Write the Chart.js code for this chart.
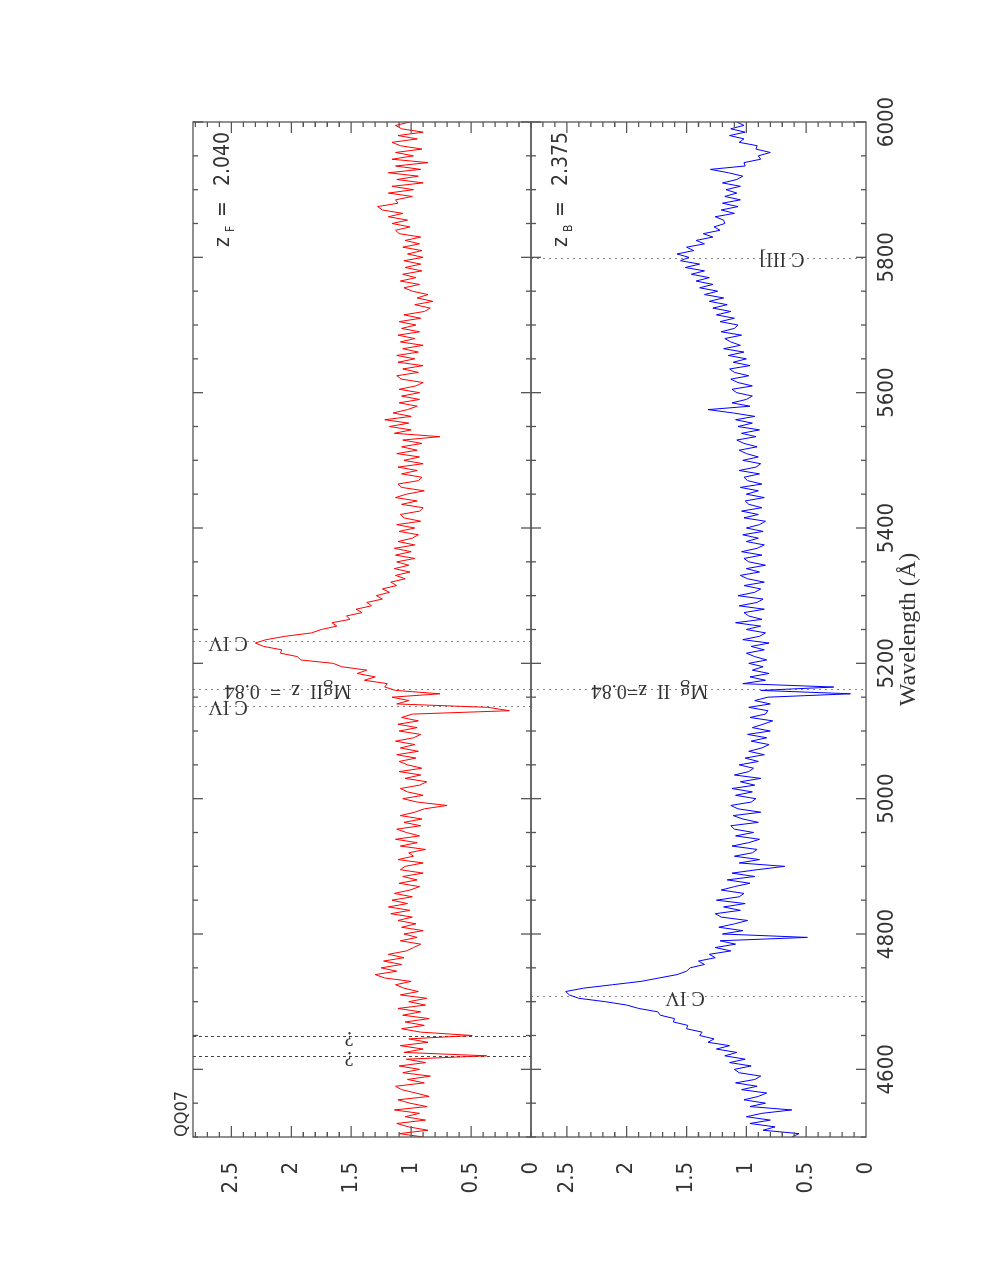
<!DOCTYPE html>
<html>
<head>
<meta charset="utf-8">
<script src="https://cdn.jsdelivr.net/npm/chart.js@4.4.1/dist/chart.umd.min.js"></script>
<style>
  html, body { margin: 0; padding: 0; background: #fff; overflow: hidden; }
  /* the figure is drawn landscape and turned a quarter turn, like the printed page */
  #page { position: absolute; left: 0; top: 0; width: 1269px; height: 981px;
          transform-origin: 0 0; transform: translateY(1269px) rotate(-90deg); }
  #page canvas { position: absolute; left: 0; top: 0; }
</style>
</head>
<body>
<div id="page">
  <canvas id="panelF" width="1269" height="981"></canvas>
  <canvas id="panelB" width="1269" height="981"></canvas>
</div>
<script>
// spectra sampled every 5 A from 4500 A
var waveStart = 4500;
var waveStep = 5;

// upper spectrum (red), relative flux
var fluxF = [
  0.90, 1.10, 0.86, 1.02, 1.12, 0.88, 1.05, 0.93, 1.14, 0.87,
  1.01, 1.11, 0.85, 0.96, 1.08, 1.13, 0.89, 1.03, 0.84, 1.07,
  0.93, 1.10, 0.88, 1.04, 0.37, 1.06, 0.90, 1.09, 0.86, 1.02,
  0.49, 0.92, 1.08, 0.89, 1.05, 0.85, 1.07, 0.92, 1.11, 0.88,
  1.02, 0.87, 1.09, 0.94, 1.06, 1.13, 1.00, 1.22, 1.30, 1.12,
  1.25, 1.08, 1.23, 1.06, 1.19, 1.04, 0.98, 0.92, 1.09, 0.95,
  1.06, 0.90, 1.08, 0.96, 1.11, 0.99, 1.17, 1.01, 1.19, 1.03,
  1.16, 0.99, 1.14, 1.01, 0.93, 1.10, 0.95, 1.07, 0.90, 1.09,
  1.05, 0.90, 1.11, 0.98, 1.02, 0.88, 1.09, 0.95, 1.13, 0.93,
  1.04, 1.12, 0.92, 1.06, 0.91, 1.09, 0.97, 0.89, 0.70, 0.95,
  1.07, 0.90, 1.03, 1.09, 0.93, 0.87, 1.05, 0.92, 1.10, 0.91,
  1.03, 1.10, 0.96, 1.12, 0.94, 1.09, 0.97, 1.13, 0.98, 0.92,
  1.10, 0.95, 1.11, 0.94, 1.08, 0.99, 0.18, 0.36, 1.12, 1.02,
  1.16, 0.76, 1.13, 1.22, 1.20, 1.39, 1.30, 1.45, 1.37, 1.58,
  1.65, 1.92, 1.95, 2.09, 2.08, 2.23, 2.30, 2.21, 2.05, 1.83,
  1.75, 1.62, 1.66, 1.51, 1.54, 1.41, 1.46, 1.33, 1.37, 1.24,
  1.29, 1.18, 1.24, 1.12, 1.17, 1.05, 1.13, 1.01, 1.14, 1.02,
  1.12, 0.97, 1.13, 1.00, 1.14, 0.97, 1.11, 0.99, 0.94, 1.10,
  0.97, 1.12, 0.92, 1.06, 1.09, 0.93, 0.90, 1.08, 0.95, 1.13,
  1.04, 0.89, 1.08, 1.11, 0.94, 0.91, 1.08, 0.95, 1.11, 0.90,
  1.06, 0.93, 1.12, 0.95, 1.08, 0.91, 1.07, 0.76, 1.14, 1.00,
  1.18, 1.02, 1.22, 1.00, 1.15, 1.03, 0.95, 1.10, 0.93, 1.08,
  0.93, 1.10, 0.96, 0.90, 1.08, 1.12, 0.94, 1.07, 0.90, 1.11,
  0.97, 1.12, 0.94, 1.07, 0.90, 1.09, 0.97, 1.11, 0.93, 1.08,
  0.96, 1.10, 0.92, 1.06, 0.89, 0.84, 0.97, 0.82, 0.95, 0.86,
  0.99, 1.06, 0.93, 1.09, 0.96, 1.07, 0.91, 1.05, 0.92, 1.06,
  0.90, 1.03, 0.91, 1.07, 0.93, 1.05, 0.92, 1.10, 1.13, 1.01,
  1.16, 1.03, 1.19, 1.07, 1.24, 1.28, 1.11, 1.13, 0.99, 1.19,
  0.98, 1.16, 0.90, 1.12, 0.94, 1.19, 0.92, 1.13, 0.86, 1.16,
  0.98, 1.13, 0.91, 1.09, 1.16, 0.95, 1.11, 0.90, 1.08, 1.13,
  1.01
];

// lower spectrum (blue), relative flux
var fluxB = [
  0.62, 0.56, 0.86, 0.76, 0.97, 0.80, 1.00, 0.87, 0.62, 0.97,
  0.84, 1.02, 0.90, 0.83, 1.04, 0.91, 1.09, 0.93, 0.88, 1.06,
  1.10, 0.96, 1.14, 1.01, 1.18, 1.08, 1.25, 1.14, 1.32, 1.27,
  1.39, 1.37, 1.50, 1.49, 1.61, 1.60, 1.72, 1.74, 1.90, 2.00,
  2.18, 2.40, 2.48, 2.51, 2.36, 2.12, 1.88, 1.73, 1.58, 1.50,
  1.47, 1.35, 1.40, 1.26, 1.31, 1.13, 1.26, 1.09, 1.22, 0.49,
  1.20, 1.03, 1.23, 1.10, 0.99, 1.21, 1.26, 1.05, 1.19, 1.01,
  1.25, 1.06, 1.02, 1.21, 1.10, 0.97, 1.16, 0.93, 1.12, 0.91,
  0.68, 1.06, 0.89, 1.10, 0.95, 0.91, 1.12, 0.98, 0.89, 1.09,
  0.94, 1.10, 1.13, 0.90, 1.03, 1.11, 0.88, 1.07, 1.13, 0.96,
  0.92, 1.09, 0.95, 1.12, 0.93, 1.05, 0.88, 1.10, 0.98, 0.94,
  1.06, 0.90, 1.01, 0.85, 0.98, 0.87, 0.81, 0.96, 0.83, 0.99,
  0.80, 0.95, 0.86, 0.78, 0.97, 0.84, 0.82, 0.98, 0.80, 0.93,
  0.82, 0.13, 0.88, 0.27, 1.03, 0.84, 0.97, 0.81, 0.95, 0.86,
  0.98, 0.83, 0.93, 1.00, 0.85, 0.96, 0.81, 1.03, 0.89, 0.84,
  1.00, 0.88, 1.09, 0.87, 0.98, 1.02, 0.85, 1.06, 0.91, 0.86,
  1.07, 0.93, 0.88, 1.02, 0.85, 0.99, 1.05, 0.89, 1.00, 0.84,
  0.98, 1.02, 0.87, 1.04, 0.91, 0.85, 1.00, 0.90, 1.03, 0.86,
  1.00, 0.89, 0.84, 1.02, 0.90, 1.04, 0.87, 0.98, 1.01, 0.85,
  1.00, 0.90, 1.05, 0.87, 0.99, 1.02, 0.89, 1.06, 0.92, 0.88,
  1.03, 0.90, 1.00, 1.06, 0.91, 1.02, 1.08, 0.92, 1.04, 0.89,
  1.07, 0.95, 1.09, 0.93, 1.11, 1.32, 0.97, 1.12, 1.00, 0.95,
  1.08, 1.12, 0.95, 1.07, 1.13, 0.98, 1.10, 1.14, 0.97, 1.11,
  1.00, 1.15, 1.02, 1.19, 1.05, 1.13, 1.18, 1.04, 1.21, 1.10,
  1.07, 1.22, 1.10, 1.25, 1.13, 1.28, 1.16, 1.31, 1.19, 1.35,
  1.24, 1.39, 1.28, 1.42, 1.31, 1.46, 1.35, 1.51, 1.39, 1.55,
  1.48, 1.58, 1.44, 1.50, 1.35, 1.42, 1.28, 1.36, 1.22, 1.27,
  1.18, 1.19, 1.26, 1.10, 1.21, 1.07, 1.20, 1.05, 1.18, 1.08,
  1.17, 1.05, 1.20, 1.08, 1.03, 1.15, 1.30, 1.01, 1.02, 0.88,
  0.90, 0.80, 0.92, 0.91, 1.06, 1.02, 1.14, 1.01, 1.13, 1.02,
  1.08
];

var waveTicks = [4600, 4800, 5000, 5200, 5400, 5600, 5800, 6000];
var fluxTicks = [0, 0.5, 1, 1.5, 2, 2.5];

// marked lines: wavelength and label
var lineWaveF = [4618, 4648, 5136, 5160, 5231];
var lineTextF = ['?', '?', 'C IV', 'MgII  z  =  0.84', 'C IV'];
var lineWaveB = [4707, 5160, 5798];
var lineTextB = ['C IV', 'Mg  II  z=0.84', 'C III]'];

var tickFont = "'Liberation Sans Narrow', 'DejaVu Sans Condensed', 'Liberation Sans', sans-serif";
var noteFont = "'Liberation Serif', 'DejaVu Serif', serif";
var ink = '#333';

// frame and inward ticks on every side of a panel
var framePlugin = {
  id: 'frame',
  afterDatasetsDraw: function (chart) {
    var ctx = chart.ctx, a = chart.chartArea;
    var xs = chart.scales.x, ys = chart.scales.y;
    ctx.save();
    ctx.strokeStyle = '#555';
    ctx.lineWidth = 1.3;
    ctx.strokeRect(a.left, a.top, a.right - a.left, a.bottom - a.top);
    ctx.beginPath();
    for (var w = 4500; w <= 6000; w += 50) {
      var len = (w % 200 === 0) ? 10 : 5;
      var px = xs.getPixelForValue(w);
      ctx.moveTo(px, a.top); ctx.lineTo(px, a.top + len);
      ctx.moveTo(px, a.bottom); ctx.lineTo(px, a.bottom - len);
    }
    for (var k = 1; k / 10 <= ys.max; k++) {
      var l2 = (k % 5 === 0) ? 11 : 5;
      var py = ys.getPixelForValue(k / 10);
      ctx.moveTo(a.left, py); ctx.lineTo(a.left + l2, py);
      ctx.moveTo(a.right, py); ctx.lineTo(a.right - l2, py);
    }
    ctx.stroke();
    ctx.restore();
  }
};

// dotted line markers with their labels, and the panel texts
var notesPlugin = {
  id: 'notes',
  beforeDatasetsDraw: function (chart, args, o) {
    var ctx = chart.ctx, a = chart.chartArea, xs = chart.scales.x;
    ctx.save();
    o.waves.forEach(function (w, i) {
      var px = Math.round(xs.getPixelForValue(w)) + 0.5;
      var dashed = o.texts[i] === '?';
      ctx.strokeStyle = dashed ? '#444' : '#888';
      ctx.lineWidth = 1;
      ctx.setLineDash(dashed ? [3, 3] : [2, 4]);
      ctx.beginPath();
      ctx.moveTo(px, a.top);
      ctx.lineTo(px, a.bottom);
      ctx.stroke();
    });
    ctx.setLineDash([]);
    ctx.fillStyle = ink;
    ctx.font = '20px ' + noteFont;
    ctx.textAlign = 'center';
    ctx.textBaseline = 'middle';
    o.waves.forEach(function (w, i) {
      var px = xs.getPixelForValue(w);
      ctx.save();
      ctx.translate(px, a.top + o.labelDrop[i]);
      ctx.rotate(-Math.PI / 2);
      ctx.fillText(o.texts[i], 0, 0);
      ctx.restore();
    });
    // redshift label, top right of the panel
    var base = a.top + 36;
    ctx.textBaseline = 'alphabetic';
    ctx.textAlign = 'left';
    ctx.font = '21px ' + tickFont;
    ctx.fillText('z', a.right - 125, base);
    ctx.font = '12px ' + tickFont;
    ctx.fillText(o.zSub, a.right - 110, base + 5);
    ctx.font = '21px ' + tickFont;
    ctx.fillText('=', a.right - 95, base);
    ctx.textAlign = 'right';
    ctx.fillText(o.zText, a.right - 10, base);
    if (o.title) {
      ctx.textAlign = 'left';
      ctx.font = '18px ' + tickFont;
      ctx.fillText(o.title, a.left, a.top - 6);
    }
    ctx.restore();
  }
};

function makePanel(id, flux, color, top, bottom, ymax, showX, notes) {
  var pts = flux.map(function (f, i) { return { x: waveStart + i * waveStep, y: f }; });
  return new Chart(document.getElementById(id), {
    type: 'line',
    data: { datasets: [{ data: pts, borderColor: color, borderWidth: 1, pointRadius: 0, tension: 0, fill: false }] },
    options: {
      responsive: false,
      animation: false,
      events: [],
      layout: { padding: { left: 0, right: 122, top: top, bottom: showX ? 0 : 981 - bottom } },
      plugins: { legend: { display: false }, tooltip: { enabled: false }, notes: notes },
      scales: {
        x: {
          type: 'linear', min: 4500, max: 6000, display: showX,
          afterFit: function (s) { if (showX) { s.height = 981 - bottom; } },
          afterBuildTicks: function (s) { s.ticks = waveTicks.map(function (v) { return { value: v }; }); },
          grid: { display: false, drawTicks: false },
          border: { display: false },
          ticks: { padding: 8, color: ink, font: { family: tickFont, size: 22 }, maxRotation: 0,
                   callback: function (v) { return String(v); } },
          title: { display: true, text: 'Wavelength (\u00c5)', color: ink,
                   font: { family: noteFont, size: 24 }, padding: { top: 0, bottom: 58 } }
        },
        y: {
          min: 0, max: ymax,
          afterFit: function (s) { s.width = 132; },
          afterBuildTicks: function (s) { s.ticks = fluxTicks.map(function (v) { return { value: v }; }); },
          grid: { display: false, drawTicks: false },
          border: { display: false },
          ticks: { padding: 25, color: ink, font: { family: tickFont, size: 22 },
                   callback: function (v) { return String(v); } }
        }
      }
    },
    plugins: [notesPlugin, framePlugin]
  });
}

makePanel('panelF', fluxF, '#ff0000', 193, 531, 2.82, false, {
  waves: lineWaveF, texts: lineTextF, labelDrop: [156, 156, 35, 95, 35],
  zSub: 'F', zText: '2.040', title: 'QQ07'
});
makePanel('panelB', fluxB, '#0000ff', 531, 866, 2.8, true, {
  waves: lineWaveB, texts: lineTextB, labelDrop: [154, 119, 251],
  zSub: 'B', zText: '2.375', title: ''
});
</script>
</body>
</html>
